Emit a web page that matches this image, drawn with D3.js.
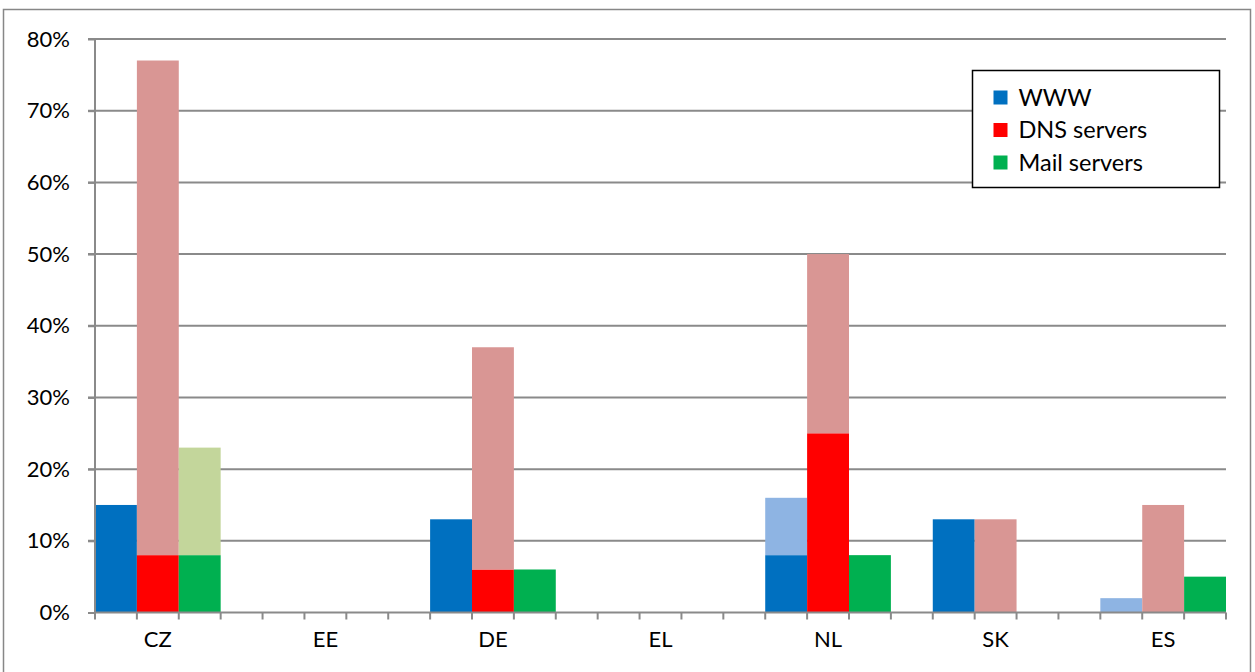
<html>
<head>
<style>
  body { margin: 0; background: #fff; }
  text { font-family: Lato, "Open Sans", sans-serif; fill: #000; }
</style>
</head>
<body>
<svg id="chart" width="1255" height="672"></svg>
<script src="https://cdn.jsdelivr.net/npm/d3@7/dist/d3.min.js"></script>
<script>
  // categories and series
  const countries = ["CZ", "EE", "DE", "EL", "NL", "SK", "ES"]
  const seriesNames = ["WWW", "DNS servers", "Mail servers"]
  const yTicks = [0, 0.1, 0.2, 0.3, 0.4, 0.5, 0.6, 0.7, 0.8]

  // dark part (bottom) and total height (dark + light) per country
  const wwwDark = [0.15, 0, 0.13, 0, 0.08, 0.13, 0]
  const wwwTotal = [0.15, 0, 0.13, 0, 0.16, 0.13, 0.02]
  const dnsDark = [0.08, 0, 0.06, 0, 0.25, 0, 0]
  const dnsTotal = [0.77, 0, 0.37, 0, 0.50, 0.13, 0.15]
  const mailDark = [0.08, 0, 0.06, 0, 0.08, 0, 0.05]
  const mailTotal = [0.23, 0, 0.06, 0, 0.08, 0, 0.05]

  const darkColors = ["#0070C0", "#FF0000", "#00B050"]
  const lightColors = ["#8EB4E3", "#D99694", "#C3D69B"]

  let svg = d3.select("#chart")

  // outer frame
  svg.append("rect")
    .attr("x", 3.5).attr("y", 9.5)
    .attr("width", 1247).attr("height", 670)
    .attr("fill", "none").attr("stroke", "#878787").attr("stroke-width", 1.5)

  let plotLeft = 95, plotRight = 1226, plotTop = 39, plotBottom = 612.5

  // 27 slots: 4 per country (3 bars + gap), last gap dropped
  let slots = d3.range(countries.length * 4 - 1)
  let x = d3.scaleBand().domain(slots).range([plotLeft, plotRight]).padding(0)
  let y = d3.scaleLinear().domain([0, 0.8]).range([plotBottom, plotTop])

  // gridlines
  svg.append("g").selectAll("line")
    .data(yTicks.slice(1))
    .enter().append("line")
    .attr("x1", plotLeft - 7).attr("x2", plotRight)
    .attr("y1", d => y(d)).attr("y2", d => y(d))
    .attr("stroke", "#8a8a8a").attr("stroke-width", 2)

  // build bar data
  let dark = [wwwDark, dnsDark, mailDark]
  let total = [wwwTotal, dnsTotal, mailTotal]
  let bars = []
  countries.forEach((c, i) => {
    seriesNames.forEach((s, j) => {
      bars.push({ slot: i * 4 + j, y0: 0, y1: dark[j][i], color: darkColors[j] })
      bars.push({ slot: i * 4 + j, y0: dark[j][i], y1: total[j][i], color: lightColors[j] })
    })
  })

  svg.append("g").selectAll("rect")
    .data(bars.filter(d => d.y1 > d.y0))
    .enter().append("rect")
    .attr("x", d => x(d.slot))
    .attr("width", x.bandwidth())
    .attr("y", d => y(d.y1))
    .attr("height", d => y(d.y0) - y(d.y1))
    .attr("fill", d => d.color)

  // y axis
  let yAxis = d3.axisLeft(y).tickValues(yTicks).tickFormat(d3.format(".0%")).tickSize(7).tickPadding(18)
  let yg = svg.append("g").attr("transform", `translate(${plotLeft},0)`).call(yAxis)
  yg.select(".domain").attr("stroke", "#8a8a8a").attr("stroke-width", 2).attr("d", `M0,${plotTop}V${plotBottom}`)
  yg.selectAll(".tick line").attr("stroke", "#8a8a8a").attr("stroke-width", 2)
  yg.selectAll("text").style("font-size", "22px").style("font-family", "Lato, sans-serif").attr("fill", "#000")

  // x axis line and ticks
  let xg = svg.append("g")
  xg.append("line")
    .attr("x1", plotLeft).attr("x2", plotRight)
    .attr("y1", plotBottom).attr("y2", plotBottom)
    .attr("stroke", "#8a8a8a").attr("stroke-width", 2)
  xg.selectAll(".xt")
    .data(d3.range(slots.length + 1))
    .enter().append("line")
    .attr("x1", d => plotLeft + d * x.bandwidth()).attr("x2", d => plotLeft + d * x.bandwidth())
    .attr("y1", plotBottom).attr("y2", plotBottom + 7)
    .attr("stroke", "#8a8a8a").attr("stroke-width", 2)
  xg.selectAll(".xl")
    .data(countries)
    .enter().append("text")
    .attr("x", (d, i) => x(i * 4) + 1.5 * x.bandwidth())
    .attr("y", plotBottom + 34)
    .attr("text-anchor", "middle")
    .style("font-size", "22px")
    .text(d => d)

  // legend
  let lg = svg.append("g").attr("transform", "translate(972.5,70.5)")
  lg.append("rect").attr("width", 247).attr("height", 117)
    .attr("fill", "#fff").attr("stroke", "#000").attr("stroke-width", 1.5)
  let item = lg.selectAll(".item")
    .data(seriesNames)
    .enter().append("g")
    .attr("transform", (d, i) => `translate(21,${27 + i * 32.5})`)
  item.append("rect").attr("x", 0).attr("y", -7).attr("width", 14).attr("height", 14)
    .attr("fill", (d, i) => darkColors[i])
  item.append("text").attr("x", 25).attr("y", 8)
    .style("font-size", "23.5px")
    .text(d => d)
</script>
</body>
</html>
